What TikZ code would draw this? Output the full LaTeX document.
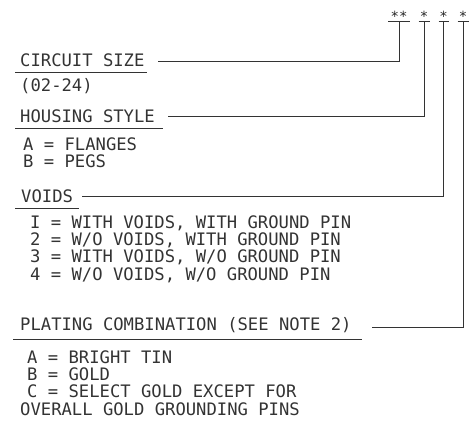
\documentclass[tikz,border=0pt]{standalone}
\usepackage{fontspec}
\setmonofont{DejaVu Sans Mono}
\tikzset{
  lbl/.style={anchor=base west, inner sep=0pt, font=\fontsize{17.2}{17.2}\selectfont\ttfamily, text=black!80},
  star/.style={anchor=base, inner sep=0pt, font=\fontsize{14}{14}\selectfont\ttfamily, text=black!85},
  ln/.style={line width=0.9pt, draw=black!80},
}
\begin{document}
\begin{tikzpicture}[x=1pt,y=-1pt]
\useasboundingbox (0,0) rectangle (476,433);
% stars
\node[star] (s1) at (399,22) {**};
\node[star] (s2) at (424,22) {*};
\node[star] (s3) at (443.5,22) {*};
\node[star] (s4) at (463,22) {*};
\draw[ln] (388,21) -- (410,21);
\draw[ln] (418.5,21) -- (429.5,21);
\draw[ln] (438.5,21) -- (449,21);
\draw[ln] (457.5,21) -- (468.5,21);
\coordinate (t1) at (399,21);
\coordinate (t2) at (424,21);
\coordinate (t3) at (443.5,21);
\coordinate (t4) at (463,21);
% labels
\node[lbl] (cs) at (20,67) {CIRCUIT SIZE};
\node[lbl] (csr) at (20,92) {(02-24)};
\node[lbl] (hs) at (20,122) {HOUSING STYLE};
\node[lbl] (hsa) at (23,150) {A = FLANGES};
\node[lbl] (hsb) at (23,167) {B = PEGS};
\node[lbl] (vo) at (21,202) {VOIDS};
\node[lbl] (vo1) at (30,228) {I = WITH VOIDS, WITH GROUND PIN};
\node[lbl] (vo2) at (30,245) {2 = W/O VOIDS, WITH GROUND PIN};
\node[lbl] (vo3) at (30,262) {3 = WITH VOIDS, W/O GROUND PIN};
\node[lbl] (vo4) at (30,280) {4 = W/O VOIDS, W/O GROUND PIN};
\node[lbl] (pc) at (20,330) {PLATING COMBINATION (SEE NOTE 2)};
\node[lbl] (pca) at (27,363) {A = BRIGHT TIN};
\node[lbl] (pcb) at (27,380) {B = GOLD};
\node[lbl] (pcc) at (27,397) {C = SELECT GOLD EXCEPT FOR};
\node[lbl] (pcd) at (20,415) {OVERALL GOLD GROUNDING PINS};
% underlines
\draw[ln] (15,72) -- (147,72);
\draw[ln] (15,128) -- (163,128);
\draw[ln] (15,208) -- (79,208);
\draw[ln] (13,339) -- (362,339);
% connector start points
\coordinate (c1) at (158,61);
\coordinate (c2) at (168,116);
\coordinate (c3) at (82,196);
\coordinate (c4) at (372,327);
\draw[ln] (c1) -| (t1);
\draw[ln] (c2) -| (t2);
\draw[ln] (c3) -| (t3);
\draw[ln] (c4) -| (t4);
\end{tikzpicture}
\end{document}
